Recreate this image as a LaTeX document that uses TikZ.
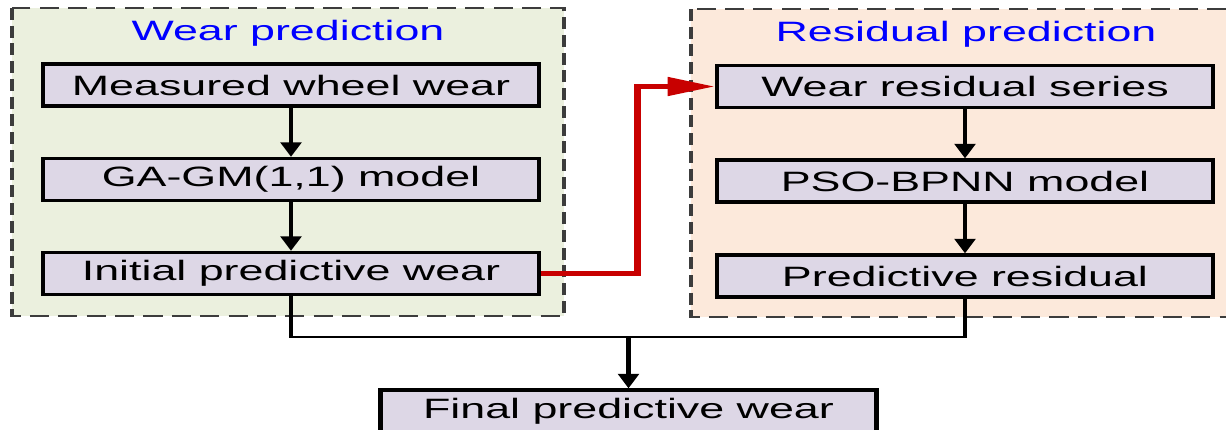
\documentclass[tikz,border=0pt]{standalone}
\usepackage{fontspec}
\setmainfont{Liberation Sans}
\usepackage{tikz}
\usetikzlibrary{arrows.meta}

\definecolor{panelgreen}{RGB}{235,240,222}
\definecolor{panelorange}{RGB}{252,233,219}
\definecolor{boxfill}{RGB}{221,215,230}
\definecolor{arrowred}{RGB}{200,0,0}
\definecolor{dashgray}{RGB}{60,60,60}

\tikzset{
  stepbox/.style={draw=black, line width=2.3pt, fill=boxfill, minimum width=232.5pt,
    minimum height=31.5pt, inner sep=0pt, font=\fontsize{21}{25}\selectfont},
  panel/.style={draw=dashgray, line width=1.5pt, dash pattern=on 9pt off 4.3pt},
  paneltitle/.style={text=blue, inner sep=0pt, font=\fontsize{21}{25}\selectfont},
  flow/.style={line width=2.2pt, -{Triangle[length=11pt,width=9.5pt]}},
  redflow/.style={draw=arrowred, line width=3.5pt, -{Triangle[length=22pt,width=13.5pt]}}
}

\begin{document}
\begin{tikzpicture}[x=0.75pt,y=0.75pt,yscale=-1,xscale=1]
\useasboundingbox (0,0) rectangle (1226,429);
\begin{scope}[transform canvas={xscale=1.6}, x=0.46875pt]
% panels
\draw[panel, fill=panelgreen] (12,8) rectangle (564,316);
\draw[panel, fill=panelorange] (691,9) rectangle (1232,317);
\node[paneltitle] (wearttl) at (288,33) {Wear prediction};
\node[paneltitle] (resttl) at (966,34) {Residual prediction};
% steps
\node[stepbox] (measured) at (291,85) {Measured wheel wear};
\node[stepbox] (gagm) at (291,179.5) {GA-GM(1,1) model};
\node[stepbox] (initial) at (291,273.5) {Initial predictive wear};
\node[stepbox] (series) at (965,86.5) {Wear residual series};
\node[stepbox] (pso) at (965,181) {PSO-BPNN model};
\node[stepbox] (resid) at (965,276) {Predictive residual};
\node[stepbox] (final) at (628.5,411) {Final predictive wear};
% arrows
\draw[flow] (measured) -- (gagm);
\draw[flow] (gagm) -- (initial);
\draw[flow] (series) -- (pso);
\draw[flow] (pso) -- (resid);
\coordinate (join) at (628.5,337);
\draw[line width=2.2pt] (initial.south) |- (join) -| (resid.south);
\draw[flow] (join) -- (final);
\coordinate (redbend) at (637.5,0);
\draw[redflow] (initial.east) -| (redbend |- series.west) -- (series.west);
\end{scope}
\end{tikzpicture}
\end{document}
